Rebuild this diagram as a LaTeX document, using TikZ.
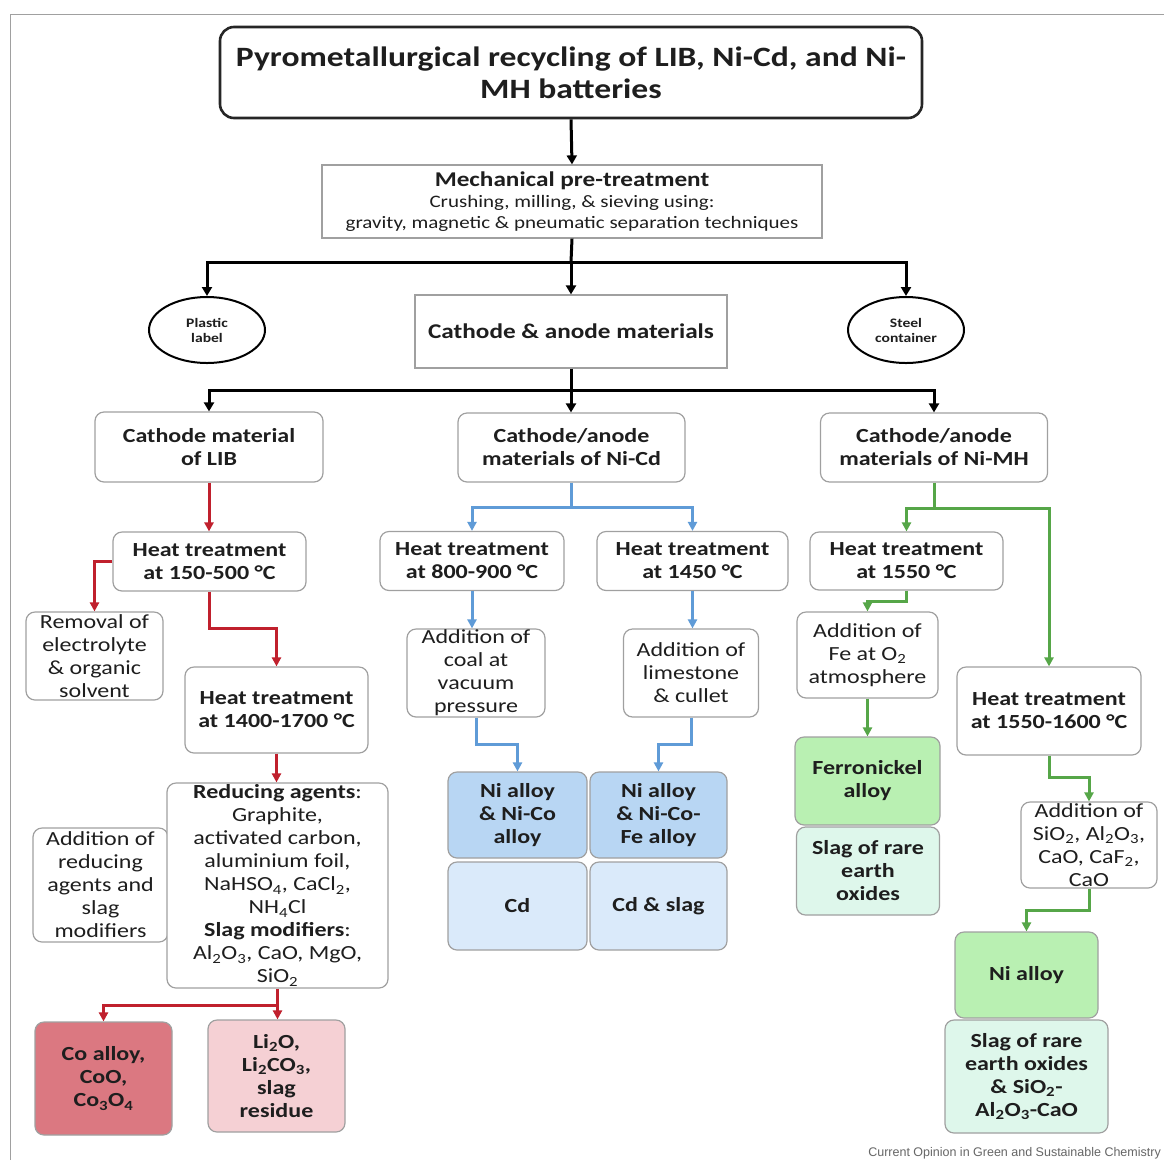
\documentclass[tikz,border=0pt]{standalone}
\usepackage{fontspec}
\setmainfont{Carlito}[FakeStretch=1.2]
\newfontfamily\footfont{Liberation Sans}
\usetikzlibrary{arrows.meta,shapes.geometric,calc}
\definecolor{bord}{RGB}{160,160,160}
\definecolor{txt}{RGB}{30,30,30}
\definecolor{redl}{RGB}{192,32,45}
\definecolor{bluel}{RGB}{95,155,215}
\definecolor{greenl}{RGB}{86,166,72}
\definecolor{cofill}{RGB}{219,120,129}
\definecolor{lifill}{RGB}{245,208,212}
\definecolor{bluetop}{RGB}{184,214,243}
\definecolor{bluebot}{RGB}{218,234,250}
\definecolor{greentop}{RGB}{185,240,178}
\definecolor{greenbot}{RGB}{222,247,235}
\tikzset{
  box/.style={draw=bord, line width=1.2pt, rounded corners=9pt, fill=white, align=center,
    inner sep=0pt, text=txt, font=\fontsize{20}{23}\selectfont},
  bbox/.style={box, font=\fontsize{20}{23}\selectfont\bfseries},
  sqbox/.style={draw=bord, line width=1.2pt, fill=white, align=center, inner sep=0pt, text=txt},
  oval/.style={ellipse, draw=black, line width=2pt, align=center, inner sep=0pt,
    font=\fontsize{13}{15}\selectfont\bfseries, text=txt},
  blkline/.style={line width=3pt, black},
  blkarr/.style={blkline, -{Triangle[length=9pt,width=10pt]}},
  redline/.style={line width=3pt, redl},
  redarr/.style={redline, -{Triangle[length=9pt,width=9pt]}},
  blueline/.style={line width=3pt, bluel},
  bluearr/.style={blueline, -{Triangle[length=9pt,width=9pt]}},
  greenline/.style={line width=3pt, greenl},
  greenarr/.style={greenline, -{Triangle[length=9pt,width=9pt]}},
}
\begin{document}
\begin{tikzpicture}[x=1pt,y=-1pt]
\useasboundingbox (0,0) rectangle (1164,1160);
\fill[white] (0,0) rectangle (1164,1160);
\draw[bord, line width=1pt] (10,1160) -- (10,14) -- (1164,14);

% top
\node[draw=black!85, line width=2.6pt, rounded corners=14pt, align=center, inner sep=0pt,
  minimum width=702, minimum height=91, text=txt, font=\fontsize{28}{32}\selectfont\bfseries]
  (title) at (571,72.5) {Pyrometallurgical recycling of LIB, Ni-Cd, and Ni-\\MH batteries};
\node[sqbox, minimum width=500, minimum height=73, font=\fontsize{17.5}{21}\selectfont]
  (mech) at (572,201.5) {{\fontsize{21}{22}\selectfont\bfseries Mechanical pre-treatment}\\Crushing, milling, \& sieving using:\\gravity, magnetic \& pneumatic separation techniques};
\node[sqbox, minimum width=312, minimum height=73, font=\fontsize{21}{24}\selectfont\bfseries]
  (cam) at (571,331.5) {Cathode \& anode materials};
\node[oval, minimum width=116, minimum height=66] (plastic) at (207,330) {Plastic\\label};
\node[oval, minimum width=116, minimum height=66] (steel) at (906,330) {Steel\\container};

\node[bbox, minimum width=228, minimum height=70] (lib) at (209,447) {Cathode material\\of LIB};
\node[bbox, minimum width=227, minimum height=69] (nicd) at (571.5,447.5) {Cathode/anode\\materials of Ni-Cd};
\node[bbox, minimum width=227, minimum height=69] (nimh) at (934,447.5) {Cathode/anode\\materials of Ni-MH};

% LIB branch
\node[bbox, minimum width=193, minimum height=59] (h1) at (209.5,561.5) {Heat treatment\\at 150-500 °C};
\node[box, minimum width=137, minimum height=88] (rem) at (94.5,656) {Removal of\\electrolyte\\\& organic\\solvent};
\node[bbox, minimum width=183, minimum height=86] (h2) at (276.5,710) {Heat treatment\\at 1400-1700 °C};
\node[box, minimum width=135, minimum height=114] (addr) at (100.5,885) {Addition of\\reducing\\agents and\\slag\\modifiers};
\node[box, minimum width=221, minimum height=205] (red) at (277.5,885.5)
  {\textbf{Reducing agents}:\\Graphite,\\activated carbon,\\aluminium foil,\\NaHSO\textsubscript{4}, CaCl\textsubscript{2},\\NH\textsubscript{4}Cl\\\textbf{Slag modifiers}:\\Al\textsubscript{2}O\textsubscript{3}, CaO, MgO,\\SiO\textsubscript{2}};
\node[bbox, fill=cofill, minimum width=137, minimum height=113] (co) at (103.5,1078.5) {Co alloy,\\CoO,\\Co\textsubscript{3}O\textsubscript{4}};
\node[bbox, fill=lifill, minimum width=137, minimum height=112] (li) at (276.5,1076) {Li\textsubscript{2}O,\\Li\textsubscript{2}CO\textsubscript{3},\\slag\\residue};

% Ni-Cd branch
\node[bbox, minimum width=184, minimum height=59] (h3) at (472,561) {Heat treatment\\at 800-900 °C};
\node[bbox, minimum width=191, minimum height=59] (h4) at (692.5,561) {Heat treatment\\at 1450 °C};
\node[box, minimum width=138, minimum height=88] (coal) at (476,673) {Addition of\\coal at\\vacuum\\pressure};
\node[box, minimum width=135, minimum height=88] (lime) at (691,673) {Addition of\\limestone\\\& cullet};
\node[bbox, fill=bluetop, minimum width=139, minimum height=86] (ni1) at (517.5,815) {Ni alloy\\\& Ni-Co\\alloy};
\node[bbox, fill=bluebot, minimum width=139, minimum height=88] (cd1) at (517.5,906) {Cd};
\node[bbox, fill=bluetop, minimum width=137, minimum height=86] (ni2) at (658.5,815) {Ni alloy\\\& Ni-Co-\\Fe alloy};
\node[bbox, fill=bluebot, minimum width=137, minimum height=88] (cd2) at (658.5,906) {Cd \& slag};

% Ni-MH branch
\node[bbox, minimum width=193, minimum height=58] (h5) at (906.5,561) {Heat treatment\\at 1550 °C};
\node[box, minimum width=141, minimum height=86] (fe) at (867.5,655) {Addition of\\Fe at O\textsubscript{2}\\atmosphere};
\node[bbox, fill=greentop, minimum width=145, minimum height=88] (fer) at (867.5,781) {Ferronickel\\alloy};
\node[bbox, fill=greenbot, minimum width=143, minimum height=88] (slag1) at (868,871) {Slag of rare\\earth\\oxides};
\node[bbox, minimum width=184, minimum height=88] (h6) at (1049,711) {Heat treatment\\at 1550-1600 °C};
\node[box, minimum width=136, minimum height=86] (sio) at (1089,845) {Addition of\\SiO\textsubscript{2}, Al\textsubscript{2}O\textsubscript{3},\\CaO, CaF\textsubscript{2},\\CaO};
\node[bbox, fill=greentop, minimum width=143, minimum height=86] (ni3) at (1026.5,975) {Ni alloy};
\node[bbox, fill=greenbot, minimum width=163, minimum height=113] (slag2) at (1026.5,1076.5) {Slag of rare\\earth oxides\\\& SiO\textsubscript{2}-\\Al\textsubscript{2}O\textsubscript{3}-CaO};

\node[anchor=east, font=\footfont\fontsize{12.5}{14}\selectfont, text=black!60, inner sep=0pt] (foot) at (1161,1153) {Current Opinion in Green and Sustainable Chemistry};

% black connectors
\draw[blkarr] (title.south) -- (mech.north);
\coordinate (j1) at (571,262);
\draw[blkline] (mech.south) -- (j1);
\draw[blkarr] (j1) -| (plastic.north);
\draw[blkarr] (j1) -| (steel.north);
\draw[blkarr] (j1) -- (cam.north);
\coordinate (j2) at (571,390);
\draw[blkline] (cam.south) -- (j2);
\draw[blkarr] (j2) -| (lib.north);
\draw[blkarr] (j2) -| (nimh.north);
\draw[blkarr] (j2) -- (j2 |- nicd.north);

% red connectors
\draw[redarr] (lib.south) -- (lib.south |- h1.north);
\draw[redarr] (h1.west) -| (rem.north);
\draw[redarr] (h1.south) -- ++(0,37) -| (h2.north);
\draw[redarr] (h2.south) -- (h2.south |- red.north);
\coordinate (rj) at ($(red.south)+(0,17)$);
\draw[redline] (red.south) -- (rj);
\draw[redarr] (rj) -| (co.north);
\draw[redarr] (rj) -- (rj |- li.north);

% blue connectors
\coordinate (bj) at (571.5,507);
\draw[blueline] (nicd.south) -- (bj);
\draw[bluearr] (bj) -| (h3.north);
\draw[bluearr] (bj) -| (h4.north);
\draw[bluearr] (h3.south) -- (h3.south |- coal.north);
\draw[bluearr] (h4.south) -- (h4.south |- lime.north);
\draw[bluearr] (coal.south) -- ++(0,27) -| (ni1.north);
\draw[bluearr] (lime.south) -- ++(0,27) -| (ni2.north);

% green connectors
\coordinate (gj) at (934,508);
\draw[greenline] (nimh.south) -- (gj);
\draw[greenarr] (gj) -| (h5.north);
\draw[greenarr] (gj) -| (h6.north);
\draw[greenarr] (h5.south) -- ++(0,11) -| (fe.north);
\draw[greenarr] (fe.south) -- (fe.south |- fer.north);
\draw[greenarr] (h6.south) -- ++(0,22) -| (sio.north);
\draw[greenarr] (sio.south) -- ++(0,22) -| (ni3.north);
\end{tikzpicture}
\end{document}
